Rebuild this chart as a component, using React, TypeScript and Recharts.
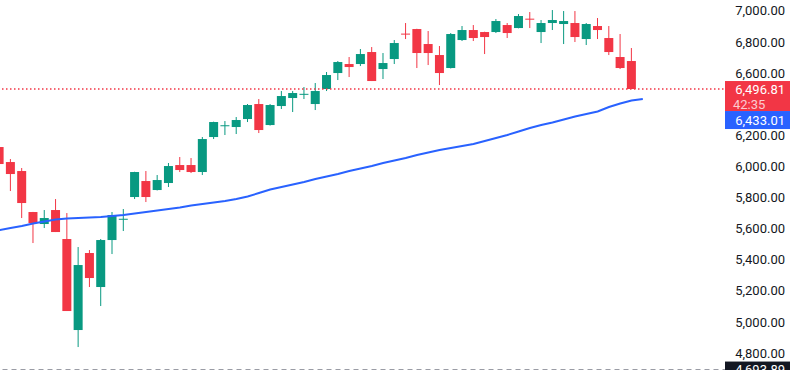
import React from "react";
import {
  ComposedChart,
  Bar,
  Line,
  XAxis,
  YAxis,
  ReferenceLine,
} from "recharts";

const UP = "#089981";
const DOWN = "#f23645";
const MA_COLOR = "#2962ff";
const FONT = "Roboto, 'Liberation Sans', sans-serif";

// daily candles, oldest first (first one is cut off on the left edge)
const OPEN = [
  6124, 6027.6, 5969.8, 5706.3, 5629.2, 5719.1, 5532.8, 4947.9, 5442.8, 5224.3,
  5526.3, 5659, 5802.7, 5905.5, 5847.7, 5892.7, 6008.3, 6008.3, 5963.4, 6188.3,
  6260, 6252.6, 6304, 6400.4, 6265.4, 6387.5, 6439, 6462, 6400.4, 6496.8,
  6599.6, 6657.5, 6657.5, 6734.6, 6625.3, 6689.6, 6853, 6882.4, 6786, 6715.3,
  6631.8, 6811.7, 6876, 6863.1, 6863.1, 6908.1, 6888.8, 6949, 6863.1, 6921,
  6914.6, 6921, 6818.1, 6901.7, 6824.6, 6702.5, 6676.8,
];
const HIGH = [
  6140, 6046.9, 5989.1, 5707, 5719.1, 5789.8, 5699.8, 5481.3, 5462, 5532.7,
  5706.3, 5725.6, 5965, 5969.8, 5944.1, 6021.2, 6059.8, 6053.3, 6188.3, 6287,
  6291.1, 6316.8, 6400.4, 6432.5, 6400.4, 6483.9, 6483.9, 6509.7, 6535.4, 6606.1,
  6676.8, 6702.5, 6753.9, 6766.7, 6728.2, 6811.7, 6921, 6884, 6869.6, 6773.2,
  6856.7, 6901.7, 6908.1, 6865, 6946.7, 6921, 6978.8, 6991.7, 6940.3, 7004.5,
  6998.1, 6998.1, 6921, 6953.1, 6901.7, 6850.3, 6760.3,
];
const LOW = [
  6000, 5841.2, 5667.7, 5507, 5603.4, 5577.7, 5070, 4838.6, 5224.3, 5102.1,
  5436.3, 5584.2, 5789.8, 5770.5, 5845, 5867, 5963.4, 5956.9, 5944.1, 6175.4,
  6201.2, 6207.6, 6284.7, 6214, 6262, 6368.3, 6349, 6432.5, 6361.8, 6483.9,
  6554.6, 6573.9, 6644.6, 6548.2, 6561.1, 6657.5, 6818.1, 6631.8, 6651, 6522.5,
  6629, 6805.3, 6805.3, 6721.7, 6856.7, 6824.6, 6887, 6888.8, 6792.4, 6876,
  6786, 6798.9, 6779.6, 6818.1, 6715.3, 6625.3, 6496.81,
];
const CLOSE = [
  6014.8, 5950.5, 5764.1, 5635.6, 5667.7, 5577.7, 5070, 5365.6, 5282.1, 5526.3,
  5687, 5663, 5963.4, 5802.7, 5911.9, 6001.9, 5976.2, 5963.4, 6175.4, 6284.7,
  6264, 6297.6, 6394, 6233.3, 6394, 6451.8, 6471.1, 6466, 6483.9, 6586.8,
  6670.3, 6638.2, 6721.7, 6548.2, 6663.9, 6792.4, 6847, 6728.2, 6728.2, 6599.6,
  6850.3, 6876, 6824.6, 6831, 6933.8, 6856.7, 6966, 6945, 6921, 6940.3,
  6933.8, 6831, 6914.6, 6876, 6734.6, 6631.8, 6496.81,
];
// moving average, one value more than the candles
const MA = [
  5590.6, 5603.4, 5616.3, 5632.4, 5645.2, 5658.1, 5664.5, 5667.7, 5671, 5674.2,
  5680.6, 5687, 5696.7, 5706.3, 5716, 5725.6, 5735.2, 5748.1, 5757.7, 5767.4,
  5777, 5789.8, 5805.9, 5828.4, 5850.9, 5866.9, 5883, 5899.1, 5918.4, 5934.4,
  5950.5, 5969.8, 5985.9, 6001.9, 6021.2, 6037.3, 6053.3, 6072.6, 6088.7, 6104.8,
  6117.6, 6130.5, 6143.3, 6162.6, 6181.9, 6201.2, 6223.7, 6246.1, 6265.4, 6281.5,
  6300.8, 6320, 6336.1, 6352.2, 6381.1, 6403.6, 6422.9, 6433.01,
];
// 6,400 sits under the price tags, so it is not listed
const PRICE_TICKS = [4800, 5000, 5200, 5400, 5600, 5800, 6000, 6200, 6600, 6800, 7000];
const LAST_PRICE = 6496.81;
const LAST_MA = 6433.01;
const RANGE_LOW = 4693.89;
const COUNTDOWN = "42:35";
const EMPTY_SLOTS = 7;

const data = Array.from({ length: MA.length + EMPTY_SLOTS }, (_, i) => ({
  i,
  open: OPEN[i] ?? null,
  high: HIGH[i] ?? null,
  low: LOW[i] ?? null,
  close: CLOSE[i] ?? null,
  ma: MA[i] ?? null,
}));

const fmt = (v: number) =>
  v.toLocaleString("en-US", { minimumFractionDigits: 2, maximumFractionDigits: 2 });

const Candle = (props: any) => {
  const { x, y, width, height, payload } = props;
  if (!payload || payload.open == null) return null;
  const { open, close, high, low } = payload;
  const top = Math.min(y, y + height);
  const h = Math.abs(height);
  const ratio = high === low ? 0 : h / (high - low);
  const yOf = (v: number) => top + (high - v) * ratio;
  const color = close >= open ? UP : DOWN;
  const cx = x + width / 2;
  const b1 = yOf(Math.max(open, close));
  const b2 = yOf(Math.min(open, close));
  return (
    <g>
      <line x1={cx} x2={cx} y1={top} y2={top + h} stroke={color} strokeWidth={1} />
      <rect x={x} y={b1} width={width} height={Math.max(1, b2 - b1)} fill={color} />
    </g>
  );
};

const PriceTick = (props: any) => {
  const { y, payload } = props;
  return (
    <text x={785} y={y} dy="0.36em" textAnchor="end" fontSize={13} fontFamily={FONT} fill="#131722">
      {fmt(payload.value)}
    </text>
  );
};

// red last-price tag with countdown, blue MA tag stacked under it
const LastTag = (props: any) => {
  const vb = props.viewBox || {};
  const left = vb.x + vb.width - 2.5;
  const y = vb.y;
  return (
    <g fontFamily={FONT} fontSize={13}>
      <rect x={left} y={y - 8} width={65} height={30} fill={DOWN} />
      <text x={785} y={y} dy="0.36em" textAnchor="end" fill="#fff">{fmt(LAST_PRICE)}</text>
      <text x={left + 8} y={y + 15} dy="0.36em" fill="#fff" fillOpacity={0.75}>{COUNTDOWN}</text>
      <rect x={left} y={y + 22} width={65} height={18} fill={MA_COLOR} />
      <text x={785} y={y + 31} dy="0.36em" textAnchor="end" fill="#fff">{fmt(LAST_MA)}</text>
    </g>
  );
};

const LowTag = (props: any) => {
  const vb = props.viewBox || {};
  const left = vb.x + vb.width - 2.5;
  return (
    <g fontFamily={FONT} fontSize={13}>
      <rect x={left} y={vb.y - 8} width={65} height={18} fill="#131722" />
      <text x={785} y={vb.y} dy="0.36em" textAnchor="end" fill="#fff">{fmt(RANGE_LOW)}</text>
    </g>
  );
};

export default function App() {
  return (
    <div
      style={{
        position: "fixed",
        left: 0,
        top: 0,
        width: 792,
        height: 370,
        background: "#fff",
        overflow: "hidden",
      }}
    >
      <ComposedChart
        width={792}
        height={370}
        data={data}
        margin={{ top: 0, right: 0, bottom: 0, left: -6.4 }}
      >
        <XAxis dataKey="i" type="category" hide />
        <YAxis
          orientation="right"
          width={64.5}
          domain={[4691, 7069]}
          allowDataOverflow
          ticks={PRICE_TICKS}
          axisLine={false}
          tickLine={false}
          tick={<PriceTick />}
        />
        <ReferenceLine y={RANGE_LOW} stroke="#9598a1" strokeDasharray="5 4" label={<LowTag />} />
        <ReferenceLine
          y={LAST_PRICE}
          stroke={DOWN}
          strokeWidth={1.5}
          strokeDasharray="1.5 2.5"
          label={<LastTag />}
        />
        <Bar
          dataKey={(d: any) => (d.low == null ? null : [d.low, d.high])}
          barSize={9}
          shape={<Candle />}
          isAnimationActive={false}
        />
        <Line
          dataKey="ma"
          type="linear"
          stroke={MA_COLOR}
          strokeWidth={2}
          dot={false}
          activeDot={false}
          isAnimationActive={false}
        />
      </ComposedChart>
    </div>
  );
}
